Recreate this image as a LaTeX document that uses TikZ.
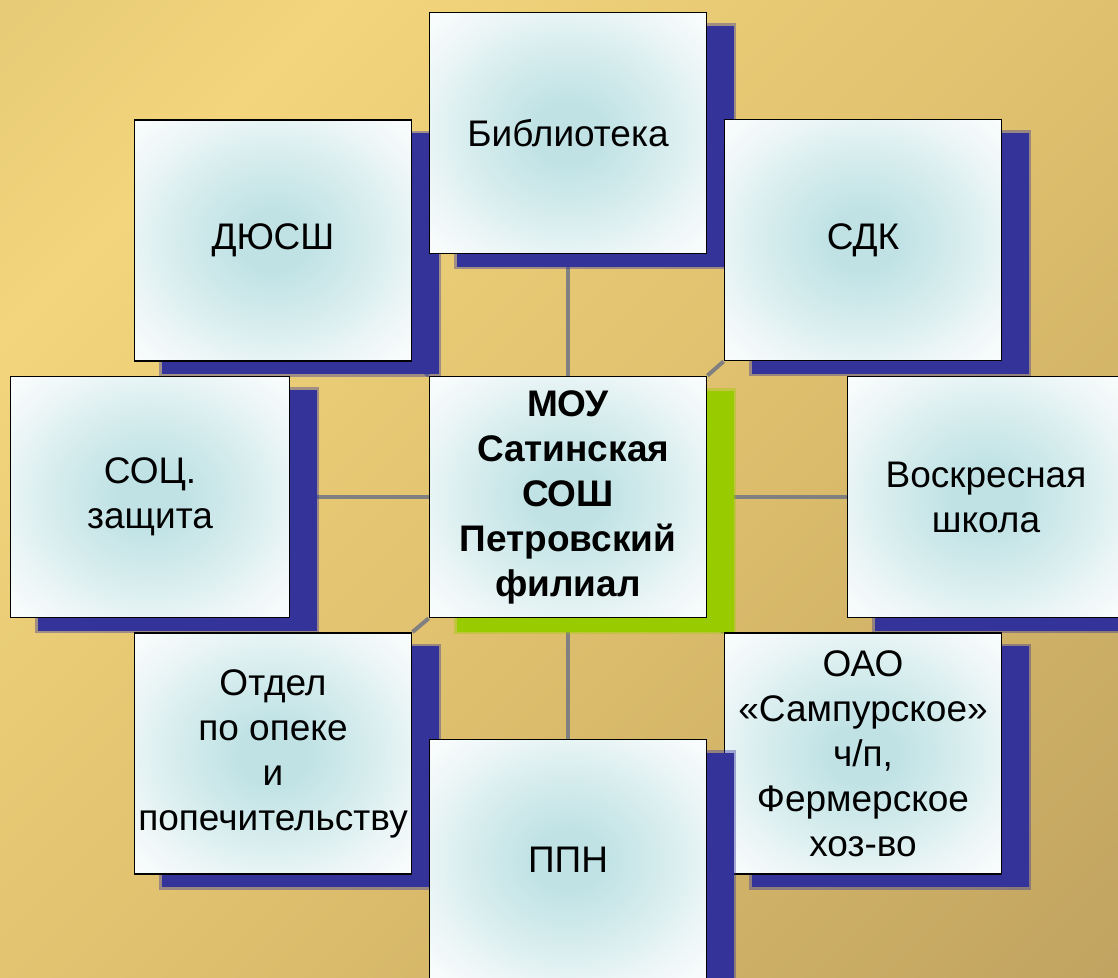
\documentclass[tikz,border=0pt]{standalone}
\usepackage{fontspec}
\setmainfont{Liberation Sans}
\usetikzlibrary{shadows}
\definecolor{bgA}{HTML}{D9BD6D}
\definecolor{bgB}{HTML}{F2D57C}
\definecolor{bgM}{HTML}{DDBE6D}
\definecolor{bgC}{HTML}{B3975A}
\definecolor{bxA}{HTML}{C0E2E5}
\definecolor{bxB}{HTML}{D5ECED}
\definecolor{bxC}{HTML}{EDF6F7}
\definecolor{shBlue}{HTML}{333399}
\definecolor{shGreen}{HTML}{99CC00}
\definecolor{connGray}{HTML}{808080}
\pgfdeclarehorizontalshading{bgshade}{100bp}{color(0bp)=(bgA); color(26bp)=(bgB); color(55bp)=(bgM); color(100bp)=(bgC)}
\pgfdeclareradialshading{boxshade}{\pgfpoint{0bp}{0bp}}{color(0bp)=(bxA); color(6bp)=(bxA); color(17bp)=(bxB); color(27bp)=(bxC); color(38bp)=(white); color(50bp)=(white)}
\pgfdeclarelayer{bgl}
\pgfdeclarelayer{lines}
\pgfsetlayers{bgl,lines,main}
\tikzset{
  basebox/.style={rectangle, draw=black, line width=1.8pt, shade, shading=boxshade,
    minimum width=277pt, minimum height=241pt, inner sep=0pt, align=center,
    font=\fontsize{37}{45}\selectfont},
  bluebox/.style={basebox, drop shadow={shadow xshift=27pt, shadow yshift=-13pt,
    opacity=1, fill=shBlue, draw=shBlue, draw opacity=0.4, line width=5pt, rounded corners=3pt}},
  greenbox/.style={basebox, font=\fontsize{37}{45}\selectfont\bfseries,
    drop shadow={shadow xshift=27pt, shadow yshift=-14pt,
    opacity=1, fill=shGreen, draw=shGreen, draw opacity=0.4, line width=5pt, rounded corners=3pt}},
  conn/.style={draw=connGray, line width=4pt}
}
\begin{document}
\begin{tikzpicture}[x=1pt, y=-1pt]
\useasboundingbox (0,0) rectangle (1118,977);
\clip (0,0) rectangle (1118,977);
\begin{pgfonlayer}{bgl}
  \shade[shading=bgshade, shading angle=-45] (0,0) rectangle (1118,977);
\end{pgfonlayer}

\node[bluebox] (dyu) at (273,240.5) {ДЮСШ};
\node[bluebox] (bib) at (568,133) {Библиотека};
\node[bluebox] (sdk) at (863,240) {СДК};
\node[bluebox, minimum width=279pt] (soc) at (150,497) {СОЦ.\\защита};
\node[greenbox] (cen) at (568,497) {МОУ\\\ Сатинская\\СОШ\\Петровский\\филиал};
\node[bluebox] (vos) at (986,497) {Воскресная\\школа};
\node[bluebox] (otd) at (273,753.5) {Отдел\\по опеке\\и\\попечительству};
\node[bluebox] (oao) at (863,753.5) {ОАО\\«Сампурское»\\ч/п,\\Фермерское\\хоз-во};
\node[bluebox] (ppn) at (568,860) {ППН};

\begin{pgfonlayer}{lines}
  \draw[conn] (cen.north) -- (bib.south);
  \draw[conn] (cen.south) -- (ppn.north);
  \draw[conn] (cen.west) -- (soc.east);
  \draw[conn] (cen.east) -- (vos.west);
  \draw[conn] (cen.north east) -- (sdk.south west);
  \draw[conn] (cen.north west) -- (dyu.south east);
  \draw[conn] (cen.south west) -- (otd.north east);
  \draw[conn] (cen.south east) -- (oao.north west);
\end{pgfonlayer}
\end{tikzpicture}
\end{document}
